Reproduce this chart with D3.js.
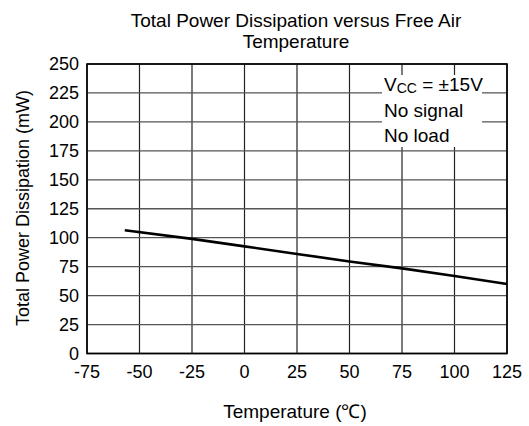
<!DOCTYPE html>
<html>
<head>
<meta charset="utf-8">
<script src="https://cdn.jsdelivr.net/npm/d3@7"></script>
<style>
  body { margin: 0; background: #fff; }
  text { font-family: "Liberation Sans", Arial, sans-serif; fill: #000; }
</style>
</head>
<body>
<svg id="chart" width="529" height="426"></svg>
<script>
// data
var temps = [-57, -25, 0, 25, 50, 75, 100, 125];
var power = [106.5, 99, 92.5, 86, 79.5, 73.5, 67, 60];
var xTicks = [-75, -50, -25, 0, 25, 50, 75, 100, 125];
var yTicks = [0, 25, 50, 75, 100, 125, 150, 175, 200, 225, 250];
var titleLines = ["Total Power Dissipation versus Free Air", "Temperature"];
var noteLines = ["No signal", "No load"];

var svg = d3.select('#chart');
var pLeft = 87, pRight = 507, pTop = 64, pBottom = 353.5;

var x = d3.scaleLinear().domain([-75, 125]).range([pLeft, pRight]);
var y = d3.scaleLinear().domain([0, 250]).range([pBottom, pTop]);

var g = svg.append('g');

// grid
g.selectAll('line.vgrid')
  .data(xTicks)
  .enter()
  .append('line')
  .attr('x1', function(d){ return x(d); })
  .attr('x2', function(d){ return x(d); })
  .attr('y1', pTop)
  .attr('y2', pBottom)
  .attr('stroke', '#222')
  .attr('stroke-width', 1.2);

g.selectAll('line.hgrid')
  .data(yTicks)
  .enter()
  .append('line')
  .attr('x1', pLeft)
  .attr('x2', pRight)
  .attr('y1', function(d){ return y(d); })
  .attr('y2', function(d){ return y(d); })
  .attr('stroke', '#555')
  .attr('stroke-width', 1.3);

// white box behind the note
g.append('rect')
  .attr('x', 382).attr('y', 75)
  .attr('width', 100).attr('height', 72)
  .attr('fill', '#fff');

// border
g.append('rect')
  .attr('x', pLeft).attr('y', pTop)
  .attr('width', pRight - pLeft).attr('height', pBottom - pTop)
  .attr('fill', 'none')
  .attr('stroke', '#000')
  .attr('stroke-width', 1.6);

// curve
var line = d3.line()
  .x(function(d){ return x(d[0]); })
  .y(function(d){ return y(d[1]); });

g.append('path')
  .datum(d3.zip(temps, power))
  .attr('d', line)
  .attr('fill', 'none')
  .attr('stroke', '#000')
  .attr('stroke-width', 2.6);

// tick labels
g.selectAll('text.xt')
  .data(xTicks)
  .enter()
  .append('text')
  .attr('x', function(d){ return x(d); })
  .attr('y', 378)
  .attr('text-anchor', 'middle')
  .style('font-size', '18px')
  .text(function(d){ return d; });

g.selectAll('text.yt')
  .data(yTicks)
  .enter()
  .append('text')
  .attr('x', 79)
  .attr('y', function(d){ return y(d) + 6; })
  .attr('text-anchor', 'end')
  .style('font-size', '18px')
  .text(function(d){ return d; });

// titles
svg.selectAll('text.title')
  .data(titleLines)
  .enter()
  .append('text')
  .attr('x', 296)
  .attr('y', function(d, i){ return 27 + i * 21; })
  .attr('text-anchor', 'middle')
  .style('font-size', '19px')
  .text(function(d){ return d; });

svg.append('text')
  .attr('x', 295)
  .attr('y', 418)
  .attr('text-anchor', 'middle')
  .style('font-size', '19px')
  .text('Temperature (\u2103)');

svg.append('text')
  .attr('transform', 'translate(29,208) rotate(-90)')
  .attr('text-anchor', 'middle')
  .style('font-size', '18px')
  .text('Total Power Dissipation (mW)');

// note
var vcc = svg.append('text')
  .attr('x', 384)
  .attr('y', 91)
  .style('font-size', '19px');
vcc.append('tspan').text('V');
vcc.append('tspan').attr('dy', 2).style('font-size', '14px').text('CC');
vcc.append('tspan').attr('dy', -2).text(' = \u00b115V');

svg.selectAll('text.note')
  .data(noteLines)
  .enter()
  .append('text')
  .attr('x', 384)
  .attr('y', function(d, i){ return 117 + i * 25; })
  .style('font-size', '19px')
  .text(function(d){ return d; });
</script>
</body>
</html>
